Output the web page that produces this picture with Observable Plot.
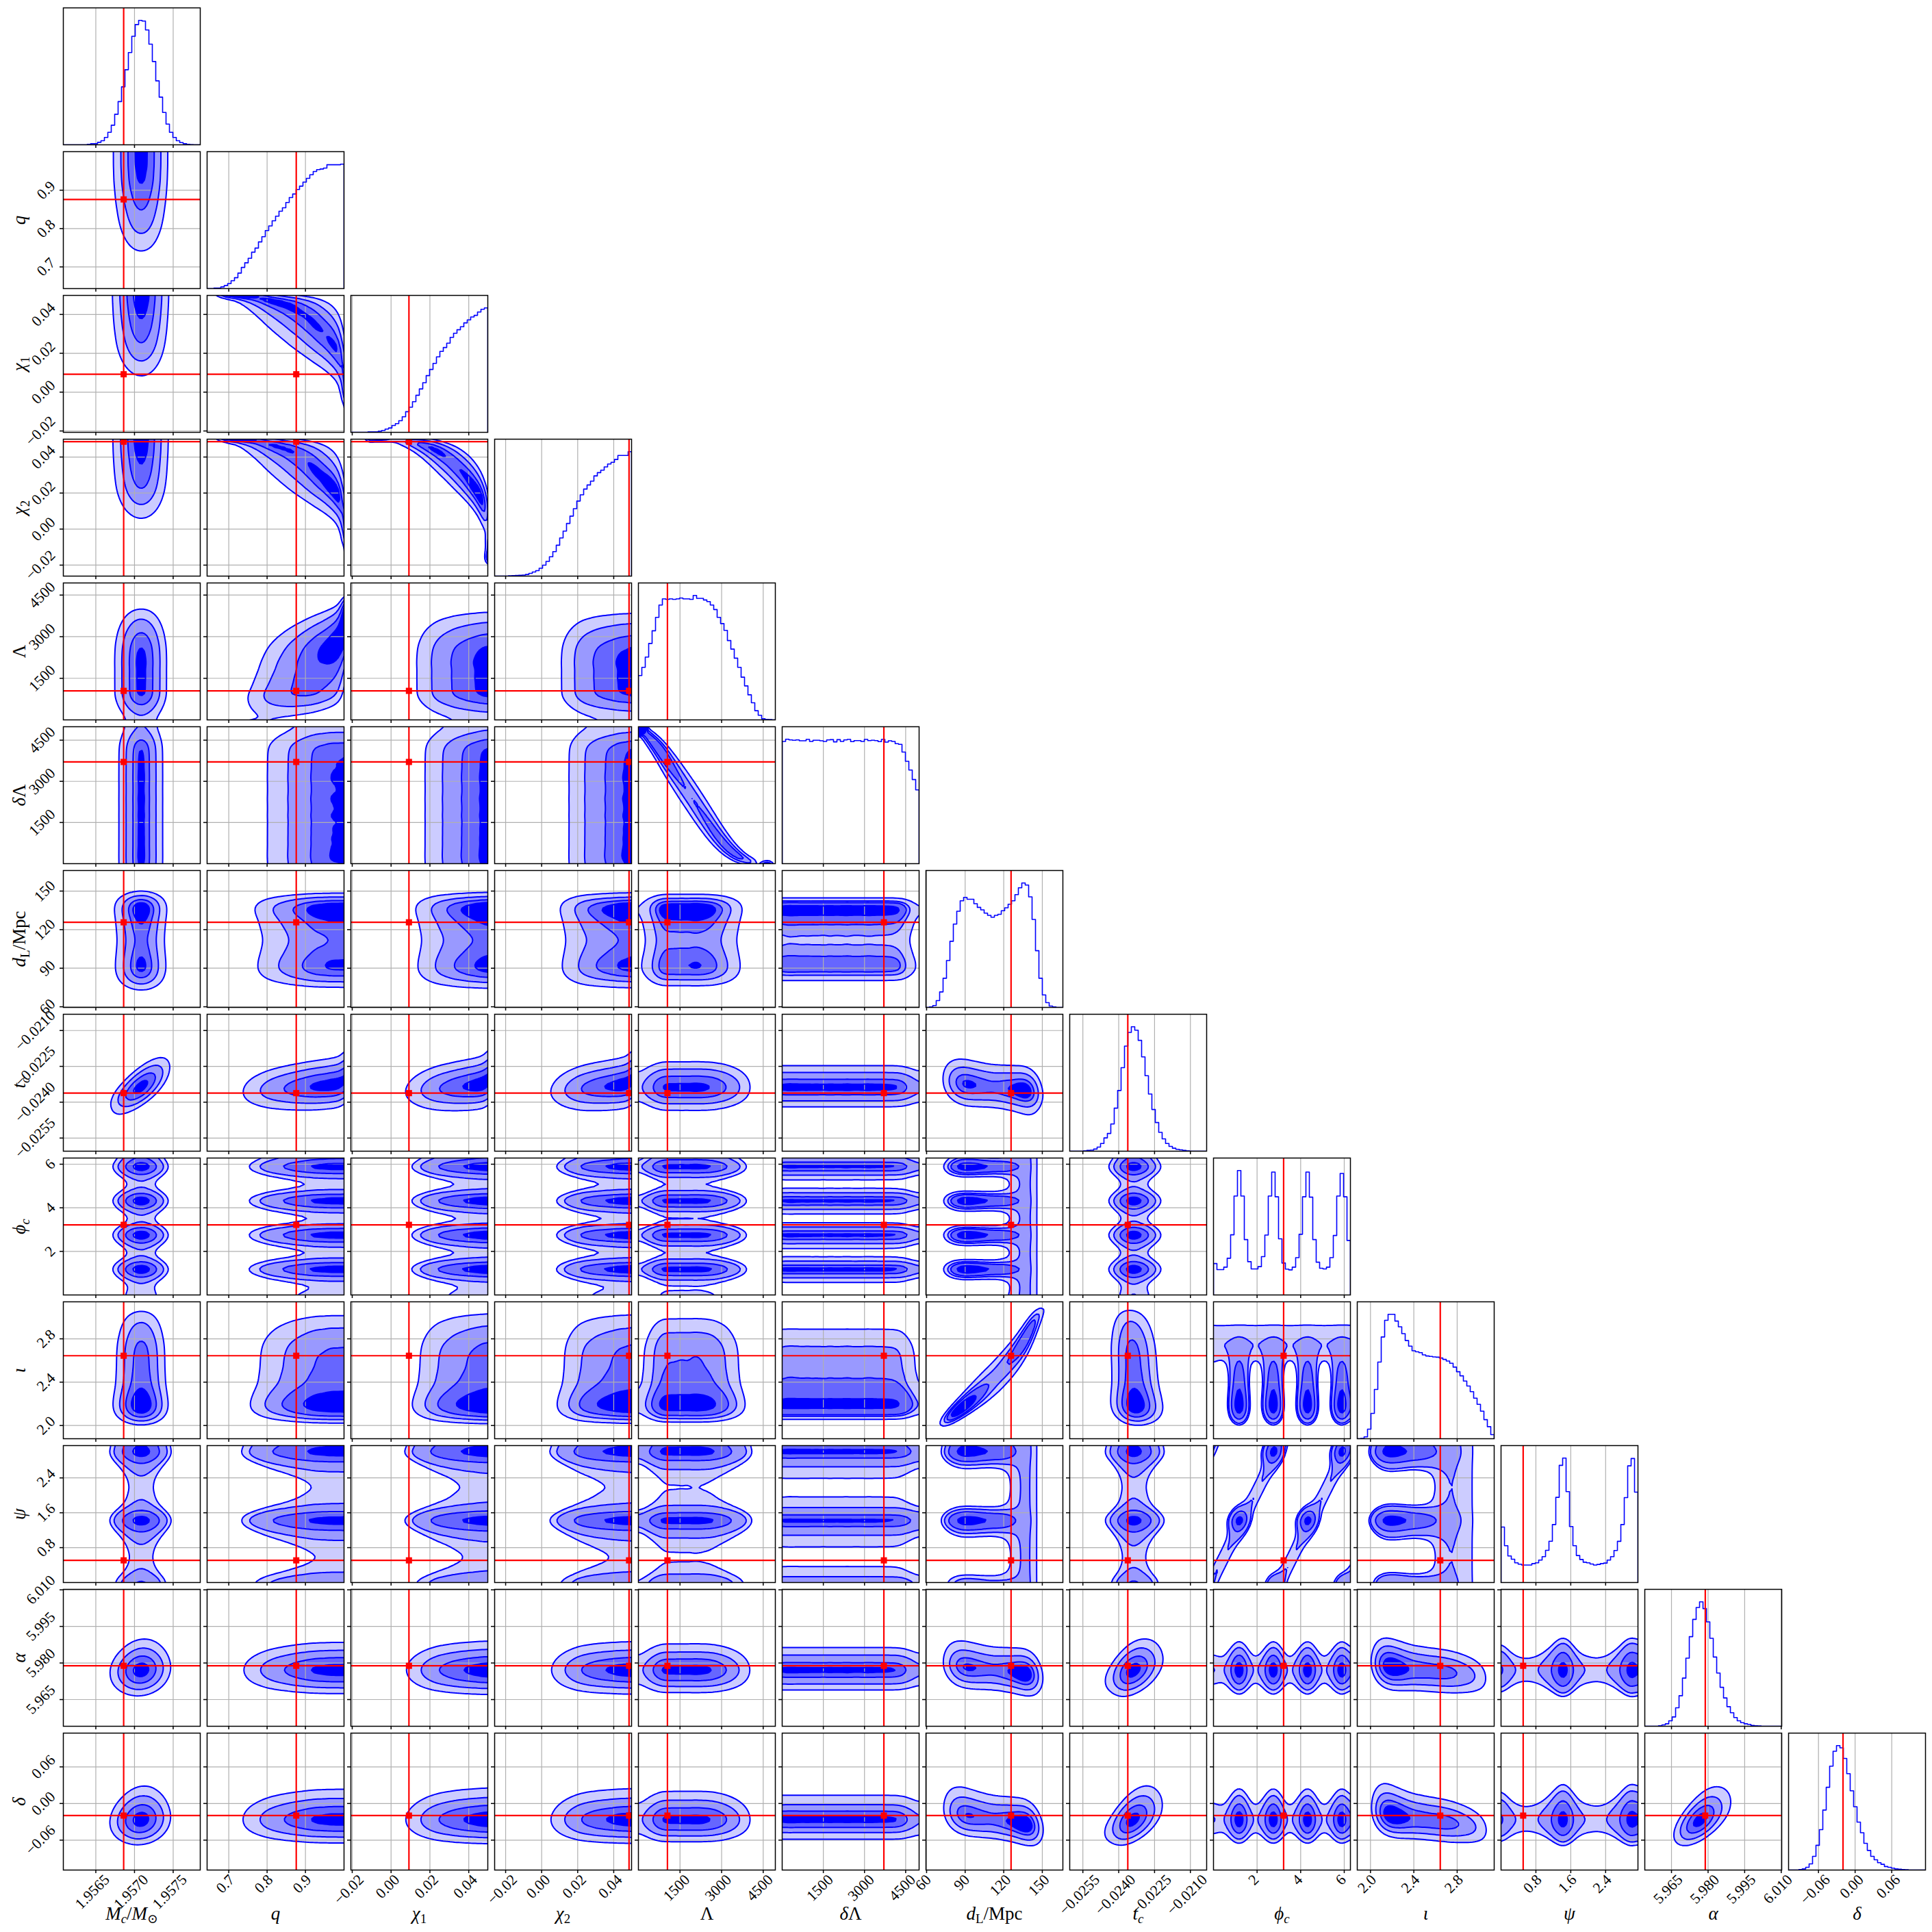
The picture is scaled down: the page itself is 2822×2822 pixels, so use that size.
<!DOCTYPE html>
<html><head><meta charset="utf-8">
<script src="https://cdn.jsdelivr.net/npm/d3@7"></script>
<script src="https://cdn.jsdelivr.net/npm/@observablehq/plot@0.6"></script>
<style>
body{margin:0;background:#fff;}
#fig{position:relative;width:2822px;height:2822px;background:#fff;overflow:hidden;}
</style></head><body><div id="fig"></div>
<script>
// ---------------- DATA ----------------
const paramNames = ["Mc","q","chi1","chi2","Lambda","dLambda","dL","tc","phic","iota","psi","alpha","delta"];
const paramLabels = [
  [["M","i"],["c","si"],["/",""],["M","i"],["⊙","s"]],
  [["q","i"]],
  [["χ","i"],["1","s"]],
  [["χ","i"],["2","s"]],
  [["Λ",""]],
  [["δ","i"],["Λ",""]],
  [["d","i"],["L","s"],["/Mpc",""]],
  [["t","i"],["c","si"]],
  [["ϕ","i"],["c","si"]],
  [["ι","i"]],
  [["ψ","i"]],
  [["α","i"]],
  [["δ","i"]]
];
const paramRanges = [[1.95608,1.95785],[0.6435,1.0006],[-0.0207,0.0498],[-0.0261,0.0499],[0,4937],[0,4990],[59.5,166],[-0.02605,-0.02032],[0,6.2832],[1.878,3.1416],[0,3.1416],[5.95405,6.0102],[-0.109,0.1153]];
const truths = [1.95686,0.876,0.0092,0.0485,1047,3706,125.7,-0.02362,3.218,2.644,0.508,5.97885,-0.0198];
const tickValues = [[1.9565,1.957,1.9575],[0.7,0.8,0.9],[-0.02,0,0.02,0.04],[-0.02,0,0.02,0.04],[1500,3000,4500],[1500,3000,4500],[60,90,120,150],[-0.0255,-0.024,-0.0225,-0.021],[2,4,6],[2.0,2.4,2.8],[0.8,1.6,2.4],[5.965,5.98,5.995,6.01],[-0.06,0,0.06]];
const tickLabels = [["1.9565","1.9570","1.9575"],["0.7","0.8","0.9"],["−0.02","0.00","0.02","0.04"],["−0.02","0.00","0.02","0.04"],["1500","3000","4500"],["1500","3000","4500"],["60","90","120","150"],["−0.0255","−0.0240","−0.0225","−0.0210"],["2","4","6"],["2.0","2.4","2.8"],["0.8","1.6","2.4"],["5.965","5.980","5.995","6.010"],["−0.06","0.00","0.06"]];

// 1D marginal histograms (40 bins over each range, relative heights)
const hist_Mc = [0,0,0,0,0,0,0,0.4,0.9,0.9,2.0,3.3,5.9,10.1,15.8,24.6,34.8,46.7,60.5,74.3,87.4,96.9,100.3,99.7,92.5,81.1,67.1,51.5,38.4,26.1,16.7,10.1,5.9,3.3,1.8,0.9,0.4,0.1,0,0];
const hist_q = [0,0,0.4,0.4,1.3,2.4,4.0,6.4,8.8,12.5,17.1,20.8,24.5,29.4,32.7,37.7,41.9,46.9,50.6,54.8,58.5,62.5,65.3,69.6,73.6,76.4,80.1,82.8,86.0,89.1,92.0,94.6,96.1,96.6,97.4,100.1,100.1,100.1,100.1,100.6];
const hist_chi1 = [0,0,0,0,0,0.4,0.4,0.4,0.9,1.5,2.6,3.5,5.5,7.0,9.4,12.5,16.6,20.2,24.6,29.8,34.9,39.9,45.6,50.6,55.5,60.7,65.1,68.2,71.7,76.4,79.7,82.5,84.9,88.0,90.4,92.8,94.1,96.8,99.0,100.1];
const hist_chi2 = [0,0,0,0,0.2,0.4,0.5,0.6,0.8,1.3,2.2,3.3,4.4,6.3,8.8,11.8,15.5,19.7,24.8,30.7,36.2,42.3,48.2,54.2,60.3,65.3,69.9,73.2,76.3,80.5,83.1,85.1,87.7,90.1,91.4,93.7,96.9,96.9,96.9,100];
const hist_Lambda = [35.7,42.3,50.6,61.6,71.8,82.6,92.5,97.5,97.1,97.5,97.1,97.5,98.2,97.5,97.5,97.1,100.3,97.9,97.9,96.6,95.3,92.5,88.9,82.6,77.6,72.1,63.9,57.0,49.7,42.3,34.4,27.4,20.2,13.8,7.4,3.7,0.9,0.4,0.2,0];
const hist_dLambda = [98.4,100.2,99.6,99.3,99.6,98.9,98.9,100.0,98.4,99.3,99.3,98.9,98.4,99.6,99.8,98.0,99.8,98.4,99.6,100.0,98.2,99.1,99.1,98.4,100.0,99.1,99.3,99.1,98.2,100.0,97.8,98.9,98.4,96.6,96.0,89.8,82.4,75.4,67.7,59.4];
const hist_dL = [0,0.4,1.5,5.5,12.5,23.5,37.8,53.3,67.2,77.5,85.9,88.7,87.2,87.2,83.6,80.6,78.6,76.0,74.2,72.7,74.2,75.0,77.9,80.3,83.2,85.9,90.9,96.4,100.3,98.6,89.1,70.9,45.7,23.5,10.1,3.9,1.1,0.4,0,0];
const hist_tc = [0,0,0,0,0.2,0.6,0.8,1.7,3.3,6.2,10.7,14.3,21.9,34.7,48.9,67.3,84.7,95.7,100.3,97.5,89.3,76.0,60.8,46.1,33.6,23.1,15.2,9.9,6.2,3.9,2.4,1.5,1.1,0.6,0.2,0,0,0,0,0];
const hist_phic = [25.3,20.4,20.4,22.4,29.6,48.5,79.7,100.3,79.7,44.6,26.8,21.0,21.0,22.8,30.9,48.3,79.7,99.0,79.1,45.2,25.7,20.8,20.2,22.4,30.1,48.9,79.1,99.0,78.8,44.6,26.4,21.5,21.0,22.4,30.1,47.9,79.7,97.9,79.1,43.9];
const hist_iota = [0,0.2,1.5,7.7,20.4,39.7,61.8,82.0,95.4,100.3,100.3,94.8,90.2,84.7,79.1,74.6,70.9,70.1,69.4,67.6,66.7,66.3,65.9,65.7,65.0,63.9,62.6,60.8,57.7,54.0,50.7,46.5,42.5,37.9,32.7,27.7,22.2,15.4,9.7,3.3];
const hist_psi = [44.6,29.6,21.3,18.7,15.8,14.7,14.0,14.0,14.0,15.2,15.8,18.0,20.8,25.9,33.2,46.6,68.5,94.2,100.1,73.1,45.0,29.6,21.7,18.5,16.3,15.8,14.9,14.0,14.5,15.2,15.6,18.0,20.8,25.7,33.1,46.6,68.3,93.8,99.7,72.7];
const hist_alpha = [0,0,0,0,0.4,1.1,2.0,4.4,7.5,14.9,24.6,38.8,54.9,72.2,86.1,95.7,100.3,94.8,84.1,70.9,55.8,42.9,31.4,22.8,15.8,10.9,7.0,4.4,2.9,2.0,1.5,0.7,0.4,0.2,0,0,0,0,0,0];
const hist_delta = [0,0,0,0.4,0.9,2.2,5.0,11.0,19.9,32.5,48.3,66.6,83.6,95.6,100.2,98.4,89.8,77.6,63.8,51.0,38.6,30.0,21.5,15.8,11.0,8.3,5.9,4.6,2.8,2.2,1.5,0.9,0.6,0.4,0.2,0,0,0,0,0];
const hists = [hist_Mc,hist_q,hist_chi1,hist_chi2,hist_Lambda,hist_dLambda,hist_dL,hist_tc,hist_phic,hist_iota,hist_psi,hist_alpha,hist_delta];

// pairwise dependence: [xParam, yParam, rho]
const correlationPairs = [[0,7,0.75],[0,11,0.12],[0,12,0.12],[1,2,-0.6],[1,3,-0.6],[1,4,0.35],[1,7,0.2],[2,3,-0.85],[2,7,0.2],[3,7,0.2],[4,5,-0.97],[6,7,-0.3],[6,9,0.96],[6,11,-0.3],[6,12,-0.4],[7,9,-0.15],[7,11,0.45],[7,12,0.55],[9,11,-0.3],[9,12,-0.4],[11,12,0.65]];
// phase structure: floor of phase histograms, iota at which the phases become unconstrained
const phaseFloors = {8:20.2, 10:14.0};
const iotaSwitch = [2.58, 0.07];      // centre, width
const phiPsiBand = [1.0, 0.1, 0.22];  // slope, offset, width of the psi-phi degeneracy band
const phiPsiLock = [0.27, 0.35];      // psi - phi offset and width linking the constrained peaks

// ---------------- STYLE ----------------
const FONT = "'Liberation Serif','DejaVu Serif',serif";
const TICK_FS = 22, LABEL_FS = 27;
const GRID = "#b0b0b0", BLUE = "#0000ff", RED = "#ff0000";
const FILLS = ["#ccccff","#9999ff","#6666ff","#0000ff"];
const LEVELS = [0.8647,0.6753,0.3935,0.1175];
const P0X = 92, P0Y = 10.67, PANEL = 200, PITCH = 210, N = 13;

// ---------------- MODEL ----------------
function makeMarginal(i){
  const [lo,hi]=paramRanges[i], h=hists[i], nb=h.length, w=(hi-lo)/nb;
  const f = x => { const t=(x-lo)/w-0.5; if(t<=0) return h[0]; if(t>=nb-1) return h[nb-1]; const k=Math.floor(t), a=t-k; return h[k]*(1-a)+h[k+1]*a; };
  const M=1000, cdf=new Float64Array(M+1); let s=0;
  for(let k=0;k<M;k++){ s+=f(lo+(k+0.5)*(hi-lo)/M)+1e-9; cdf[k+1]=s; }
  for(let k=0;k<=M;k++) cdf[k]/=s;
  const F = x => { const t=(x-lo)/(hi-lo)*M; if(t<=0) return 0; if(t>=M) return 1; const k=Math.floor(t), a=t-k; return cdf[k]*(1-a)+cdf[k+1]*a; };
  const Q = u => { if(u<=0) return lo; if(u>=1) return hi; let a=0,b=M; while(b-a>1){ const m=(a+b)>>1; if(cdf[m]<=u) a=m; else b=m; } const d=cdf[b]-cdf[a]; return lo+(a+(d>0?(u-cdf[a])/d:0))*(hi-lo)/M; };
  return {lo,hi,f,F,Q};
}
const margs = d3.range(N).map(makeMarginal);
function normInv(p){
  const a=[-3.969683028665376e+01,2.209460984245205e+02,-2.759285104469687e+02,1.383577518672690e+02,-3.066479806614716e+01,2.506628277459239e+00];
  const b=[-5.447609879822406e+01,1.615858368580409e+02,-1.556989798598866e+02,6.680131188771972e+01,-1.328068155288572e+01];
  const c=[-7.784894002430293e-03,-3.223964580411365e-01,-2.400758277161838e+00,-2.549732539343734e+00,4.374664141464968e+00,2.938163982698783e+00];
  const d=[7.784695709041462e-03,3.224671290700398e-01,2.445134137142996e+00,3.754408661907416e+00];
  const pl=0.02425;
  if(p<pl){const q=Math.sqrt(-2*Math.log(p));return (((((c[0]*q+c[1])*q+c[2])*q+c[3])*q+c[4])*q+c[5])/((((d[0]*q+d[1])*q+d[2])*q+d[3])*q+1);}
  if(p>1-pl){const q=Math.sqrt(-2*Math.log(1-p));return -(((((c[0]*q+c[1])*q+c[2])*q+c[3])*q+c[4])*q+c[5])/((((d[0]*q+d[1])*q+d[2])*q+d[3])*q+1);}
  const q=p-0.5,r=q*q;return (((((a[0]*r+a[1])*r+a[2])*r+a[3])*r+a[4])*r+a[5])*q/(((((b[0]*r+b[1])*r+b[2])*r+b[3])*r+b[4])*r+1);
}
const corr = new Map(correlationPairs.map(([i,j,r])=>[i+"-"+j,r]));
const pIota = t => 1/(1+Math.exp((t-iotaSwitch[0])/iotaSwitch[1]));
function makePeaked(k){
  const m=margs[k], fl=phaseFloors[k], M=600; let Z=0;
  for(let s=0;s<M;s++) Z+=Math.max(m.f(m.lo+(s+0.5)*(m.hi-m.lo)/M)-fl,0)*(m.hi-m.lo)/M;
  return x=>Math.max(m.f(x)-fl,0)/Z;
}
const gPhase = {8:makePeaked(8), 10:makePeaked(10)};
const uPhase = {8:1/(margs[8].hi-margs[8].lo), 10:1/(margs[10].hi-margs[10].lo)};
const mixPhase = (p,t,k) => p*gPhase[k](t)+(1-p)*uPhase[k];
const iotaOfDL = x => margs[9].Q(margs[6].F(x));
const Plow = (()=>{ const m=margs[9]; let a=0,b=0; for(let s=0;s<600;s++){ const t=m.lo+(s+0.5)*(m.hi-m.lo)/600, f=m.f(t); a+=f*pIota(t); b+=f; } return a/b; })();
function wrapped(d,sg){ let s=0; for(let k=-4;k<=4;k++){ const z=(d-k*Math.PI)/sg; s+=Math.exp(-0.5*z*z); } return s/(sg*Math.sqrt(2*Math.PI)); }
const band = (x,y) => wrapped(y-phiPsiBand[0]*x-phiPsiBand[1], phiPsiBand[2]);
const lock = (x,y) => wrapped(y-x-phiPsiLock[0], phiPsiLock[1])*Math.PI/2;
const specials = {
  "6-8": (x,y)=>margs[6].f(x)*mixPhase(pIota(iotaOfDL(x)),y,8),
  "8-9": (x,y)=>margs[9].f(y)*mixPhase(pIota(y),x,8),
  "6-10": (x,y)=>margs[6].f(x)*mixPhase(pIota(iotaOfDL(x)),y,10),
  "9-10": (x,y)=>margs[9].f(x)*mixPhase(pIota(x),y,10),
  "8-10": (x,y)=>Plow*gPhase[8](x)*gPhase[10](y)*lock(x,y)+(1-Plow)*uPhase[8]*band(x,y)
};
function blur(v,W,H,sig){
  const R=Math.ceil(3*sig), ker=d3.range(-R,R+1).map(k=>Math.exp(-0.5*(k/sig)**2)), ks=d3.sum(ker);
  const tmp=new Float64Array(W*H);
  for(let y=0;y<H;y++) for(let x=0;x<W;x++){ let s=0; for(let k=-R;k<=R;k++){ const xx=Math.min(W-1,Math.max(0,x+k)); s+=v[y*W+xx]*ker[k+R]; } tmp[y*W+x]=s/ks; }
  for(let y=0;y<H;y++) for(let x=0;x<W;x++){ let s=0; for(let k=-R;k<=R;k++){ const yy=Math.min(H-1,Math.max(0,y+k)); s+=tmp[yy*W+x]*ker[k+R]; } v[y*W+x]=s/ks; }
}
function densityGrid(i,j){
  const mx=margs[i], my=margs[j], G=60, PAD=4, W=G+2*PAD;
  const dx=(mx.hi-mx.lo)/G, dy=(my.hi-my.lo)/G;
  const x1=mx.lo-PAD*dx, x2=mx.hi+PAD*dx, y1=my.lo-PAD*dy, y2=my.hi+PAD*dy;
  const xs=d3.range(W).map(k=>x1+(k+0.5)*dx), ys=d3.range(W).map(k=>y1+(k+0.5)*dy);
  const v=new Float64Array(W*W), key=i+"-"+j;
  if(specials[key]){ const fn=specials[key]; for(let b=0;b<W;b++) for(let a=0;a<W;a++) v[b*W+a]=fn(xs[a],ys[b]); }
  else {
    const fx=xs.map(mx.f), fy=ys.map(my.f), rho=corr.get(key)||0;
    const cl=u=>Math.min(1-1e-4,Math.max(1e-4,u));
    const zx=xs.map(x=>normInv(cl(mx.F(x)))), zy=ys.map(y=>normInv(cl(my.F(y))));
    const r2=1-rho*rho;
    for(let b=0;b<W;b++) for(let a=0;a<W;a++){
      let c=1; if(rho!==0){ c=Math.exp(-(rho*rho*(zx[a]*zx[a]+zy[b]*zy[b])-2*rho*zx[a]*zy[b])/(2*r2))/Math.sqrt(r2); }
      v[b*W+a]=fx[a]*fy[b]*c;
    }
  }
  blur(v,W,W,1.5);
  const inner=[]; for(let b=PAD;b<PAD+G;b++) for(let a=PAD;a<PAD+G;a++) inner.push(v[b*W+a]);
  inner.sort((p,q)=>q-p); const tot=d3.sum(inner);
  const th=LEVELS.map(L=>{ let s=0; for(let k=0;k<inner.length;k++){ s+=inner[k]; if(s>=L*tot) return inner[k]; } return inner[inner.length-1]; });
  return {vals:Array.from(v),W,x1,x2,y1,y2,th};
}

// ---------------- DRAW ----------------
const ctx=document.createElement("canvas").getContext("2d");
function textW(s,fs){ ctx.font=`${fs}px ${FONT}`; return ctx.measureText(s).width; }
const plainLabel = parts => parts.map(p=>p[0]).join("");
function histPts(i){ const [lo,hi]=paramRanges[i], h=hists[i], n=h.length, w=(hi-lo)/n;
  const pts=[{x:lo,y:0}]; for(let k=0;k<n;k++) pts.push({x:lo+k*w,y:h[k]}); pts.push({x:hi,y:h[n-1]}); pts.push({x:hi,y:0}); return pts; }

function panel(r,c){
  const diag=r===c, ml=c===0?92:8, mb=r===N-1?92:8, mt=4, mr=4;
  const marks=[];
  const ydom = diag ? [0,1.1*d3.max(hists[c])] : paramRanges[r];
  if(diag){
    marks.push(Plot.gridX(tickValues[c],{stroke:GRID,strokeOpacity:1,strokeWidth:1.2}));
    marks.push(Plot.line(histPts(c),{x:"x",y:"y",curve:"step-after",stroke:BLUE,strokeWidth:1.6,clip:true}));
    marks.push(Plot.ruleX([truths[c]],{stroke:RED,strokeWidth:2.2,clip:true}));
  } else {
    const D=densityGrid(c,r);
    const base={value:d=>d,x1:D.x1,x2:D.x2,y1:D.y1,y2:D.y2,width:D.W,height:D.W,clip:true};
    FILLS.forEach((col,k)=>marks.push(Plot.contour(D.vals,{...base,thresholds:[D.th[k]],fill:col,stroke:"none"})));
    marks.push(Plot.gridX(tickValues[c],{stroke:GRID,strokeOpacity:1,strokeWidth:1.2}));
    marks.push(Plot.gridY(tickValues[r],{stroke:GRID,strokeOpacity:1,strokeWidth:1.2}));
    marks.push(Plot.contour(D.vals,{...base,thresholds:D.th,fill:"none",stroke:BLUE,strokeWidth:2}));
    marks.push(Plot.ruleX([truths[c]],{stroke:RED,strokeWidth:2.2,clip:true}));
    marks.push(Plot.ruleY([truths[r]],{stroke:RED,strokeWidth:2.2,clip:true}));
    marks.push(Plot.dot([{x:truths[c],y:truths[r]}],{x:"x",y:"y",symbol:"square",r:5.1,fill:RED,stroke:"none",clip:true}));
    marks.push(Plot.ruleY(tickValues[r],{insetRight:PANEL,insetLeft:-5,stroke:"black",strokeWidth:1.5}));
  }
  marks.push(Plot.ruleX(tickValues[c],{insetTop:PANEL,insetBottom:-5,stroke:"black",strokeWidth:1.5}));
  marks.push(Plot.frame({stroke:"black",strokeWidth:1.5}));
  const tl=TICK_FS, hgt=0.7*tl;
  if(r===N-1){
    tickValues[c].forEach((v,k)=>{ const s=tickLabels[c][k]; const half=(textW(s,tl)+hgt)/(2*Math.SQRT2);
      marks.push(Plot.text([v],{x:d=>d,text:()=>s,frameAnchor:"bottom",dy:10+half,rotate:-45,textAnchor:"middle",fontSize:tl,fontFamily:FONT,fill:"black"})); });
    marks.push(Plot.text([0],{frameAnchor:"bottom",dy:72,text:()=>plainLabel(paramLabels[c]),textAnchor:"middle",fontSize:LABEL_FS,fontFamily:FONT,fill:"black"}));
  }
  if(c===0 && r>0){
    tickValues[r].forEach((v,k)=>{ const s=tickLabels[r][k]; const half=(textW(s,tl)+hgt)/(2*Math.SQRT2);
      marks.push(Plot.text([v],{y:d=>d,text:()=>s,frameAnchor:"left",dx:-(10+half),rotate:-45,textAnchor:"middle",fontSize:tl,fontFamily:FONT,fill:"black"})); });
    marks.push(Plot.text([0],{frameAnchor:"left",dx:-64,rotate:-90,text:()=>plainLabel(paramLabels[r]),textAnchor:"middle",fontSize:LABEL_FS,fontFamily:FONT,fill:"black"}));
  }
  const svg=Plot.plot({width:PANEL+ml+mr,height:PANEL+mt+mb,marginLeft:ml,marginRight:mr,marginTop:mt,marginBottom:mb,
    x:{domain:paramRanges[c],axis:null},y:{domain:ydom,axis:null},marks});
  svg.style.position="absolute";
  svg.style.left=(P0X+PITCH*c-ml)+"px";
  svg.style.top=(P0Y+PITCH*r-mt)+"px";
  svg.style.background="transparent";
  svg.style.maxWidth="none";
  svg.style.overflow="visible";
  const labs=[]; if(r===N-1) labs.push(c); if(c===0&&r>0) labs.push(r);
  labs.forEach(li=>{ const parts=paramLabels[li], plain=plainLabel(parts);
    svg.querySelectorAll("text").forEach(t=>{ if(t.textContent===plain && !t.dataset.rich){ t.dataset.rich="1"; setRich(t,parts,LABEL_FS);} }); });
  return svg;
}
function setRich(el,parts,fs){
  el.textContent=""; let sub=false;
  for(const [s,st] of parts){
    const ts=document.createElementNS("http://www.w3.org/2000/svg","tspan");
    ts.textContent=s;
    const isSub=st.includes("s"), isIt=st.includes("i");
    if(isIt) ts.setAttribute("font-style","italic");
    if(isSub){ ts.setAttribute("font-size",fs*0.7); if(!sub) ts.setAttribute("dy",fs*0.22); }
    else if(sub) ts.setAttribute("dy",-fs*0.22);
    sub=isSub; el.appendChild(ts);
  }
}
const fig=document.getElementById("fig");
for(let r=0;r<N;r++) for(let c=0;c<=r;c++) fig.appendChild(panel(r,c));
</script></body></html>
